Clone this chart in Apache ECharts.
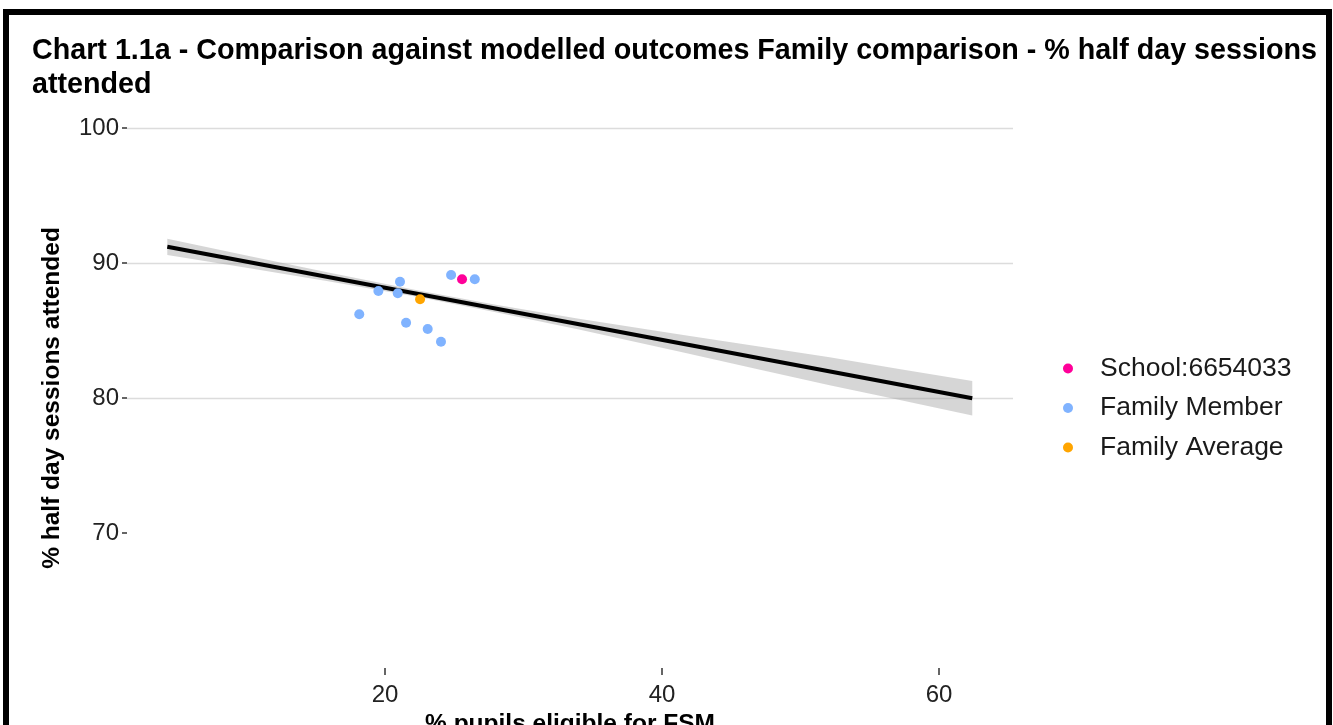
<!DOCTYPE html>
<html>
<head>
<meta charset="utf-8">
<script src="https://cdn.jsdelivr.net/npm/echarts@6/dist/echarts.min.js"></script>
<style>
html,body{margin:0;padding:0;background:#fff;}
#chart{width:1333px;height:725px;}
</style>
</head>
<body>
<div id="chart"></div>
<script>
// ---- data ----
const titleText = 'Chart 1.1a - Comparison against modelled outcomes Family comparison - % half day sessions\nattended';
const xAxisTitle = '% pupils eligible for FSM';
const yAxisTitle = '% half day sessions attended';
const xTicks = [20, 40, 60];
const yTicks = [70, 80, 90, 100];

const schoolName = 'School:6654033';
const schoolX = [25.56];
const schoolY = [88.79];

const memberX = [19.52, 21.08, 20.92, 24.77, 26.48, 18.14, 21.52, 23.08, 24.04];
const memberY = [87.93, 88.61, 87.76, 89.11, 88.79, 86.20, 85.58, 85.11, 84.17];

const averageX = [22.53];
const averageY = [87.31];

// fitted line and confidence band
const fitX  = [4.28, 62.4];
const fitY  = [91.2, 79.98];
const bandX  = [4.28, 10, 16, 22.5, 28, 34, 41.3, 47, 52.1, 57, 62.4];
const bandHi = [91.80, 90.55, 89.27, 87.94, 86.90, 85.87, 84.70, 83.81, 83.02, 82.17, 81.26];
const bandLo = [90.60, 89.65, 88.63, 87.46, 86.36, 85.07, 83.42, 82.11, 80.94, 79.89, 78.70];

// ---- build ----
const zip = (a, b) => a.map((v, i) => [v, b[i]]);
const bandData = bandX.map((x, i) => [x, bandLo[i], bandHi[i]]);

const chart = echarts.init(document.getElementById('chart'));
const FONT = 'Liberation Sans, Arial, sans-serif';

chart.setOption({
  animation: false,
  backgroundColor: '#fff',
  title: {
    text: titleText,
    left: 27,
    top: 29,
    textStyle: { fontFamily: FONT, fontSize: 28.7, fontWeight: 'bold', color: '#000', lineHeight: 34 }
  },
  graphic: [{
    type: 'rect',
    shape: { x: 6, y: 12, width: 1323, height: 800 },
    style: { fill: 'none', stroke: '#000', lineWidth: 6 },
    z: 100
  }],
  grid: { left: 127, right: 320, top: 128, bottom: 57, outerBoundsMode: 'none', containLabel: false },
  legend: {
    data: [schoolName, 'Family Member', 'Family Average'],
    orient: 'vertical',
    left: 1058,
    top: 350,
    itemWidth: 10,
    itemHeight: 10,
    itemGap: 12.5,
    icon: 'circle',
    textStyle: { fontFamily: FONT, fontSize: 26.5, color: '#1a1a1a', padding: [0, 0, 0, 22] }
  },
  xAxis: {
    type: 'value',
    min: 1.37,
    max: 65.34,
    name: xAxisTitle,
    nameLocation: 'middle',
    nameGap: 41,
    nameTextStyle: { fontFamily: FONT, fontSize: 24.5, fontWeight: 'bold', color: '#000' },
    axisLine: { show: false },
    axisTick: { show: true, length: 7, lineStyle: { color: '#333', width: 1.5 }, customValues: xTicks },
    axisLabel: { fontFamily: FONT, fontSize: 24, color: '#222', margin: 15, customValues: xTicks },
    splitLine: { show: false }
  },
  yAxis: {
    type: 'value',
    min: 60,
    max: 100,
    interval: 10,
    name: yAxisTitle,
    nameLocation: 'middle',
    nameGap: 62,
    nameTextStyle: { fontFamily: FONT, fontSize: 24.5, fontWeight: 'bold', color: '#000' },
    axisLine: { show: false },
    axisTick: { show: true, length: 5, lineStyle: { color: '#333', width: 1.5 }, customValues: yTicks },
    axisLabel: { fontFamily: FONT, fontSize: 24, color: '#222', margin: 8, customValues: yTicks },
    splitLine: { show: true, showMinLine: false, showMaxLine: true, lineStyle: { color: '#dcdcdc', width: 1.3 } }
  },
  series: [
    {
      type: 'custom',
      name: 'band',
      silent: true,
      z: 1,
      data: bandData,
      renderItem: function (params, api) {
        if (params.dataIndex !== 0) return;
        const upper = bandData.map(d => api.coord([d[0], d[2]]));
        const lower = bandData.slice().reverse().map(d => api.coord([d[0], d[1]]));
        return {
          type: 'polygon',
          shape: { points: upper.concat(lower) },
          style: { fill: 'rgba(153,153,153,0.4)', stroke: 'none' }
        };
      },
      encode: { x: 0, y: [1, 2] }
    },
    {
      type: 'line',
      name: 'fit',
      data: zip(fitX, fitY),
      symbol: 'none',
      lineStyle: { color: '#000', width: 4 },
      z: 2,
      silent: true
    },
    {
      type: 'scatter',
      name: 'Family Member',
      data: zip(memberX, memberY),
      symbolSize: 10,
      itemStyle: { color: '#80b3ff', opacity: 1 },
      z: 3
    },
    {
      type: 'scatter',
      name: schoolName,
      data: zip(schoolX, schoolY),
      symbolSize: 10,
      itemStyle: { color: '#ff0099', opacity: 1 },
      z: 4
    },
    {
      type: 'scatter',
      name: 'Family Average',
      data: zip(averageX, averageY),
      symbolSize: 10,
      itemStyle: { color: '#ffa500', opacity: 1 },
      z: 4
    }
  ]
});
</script>
</body>
</html>
